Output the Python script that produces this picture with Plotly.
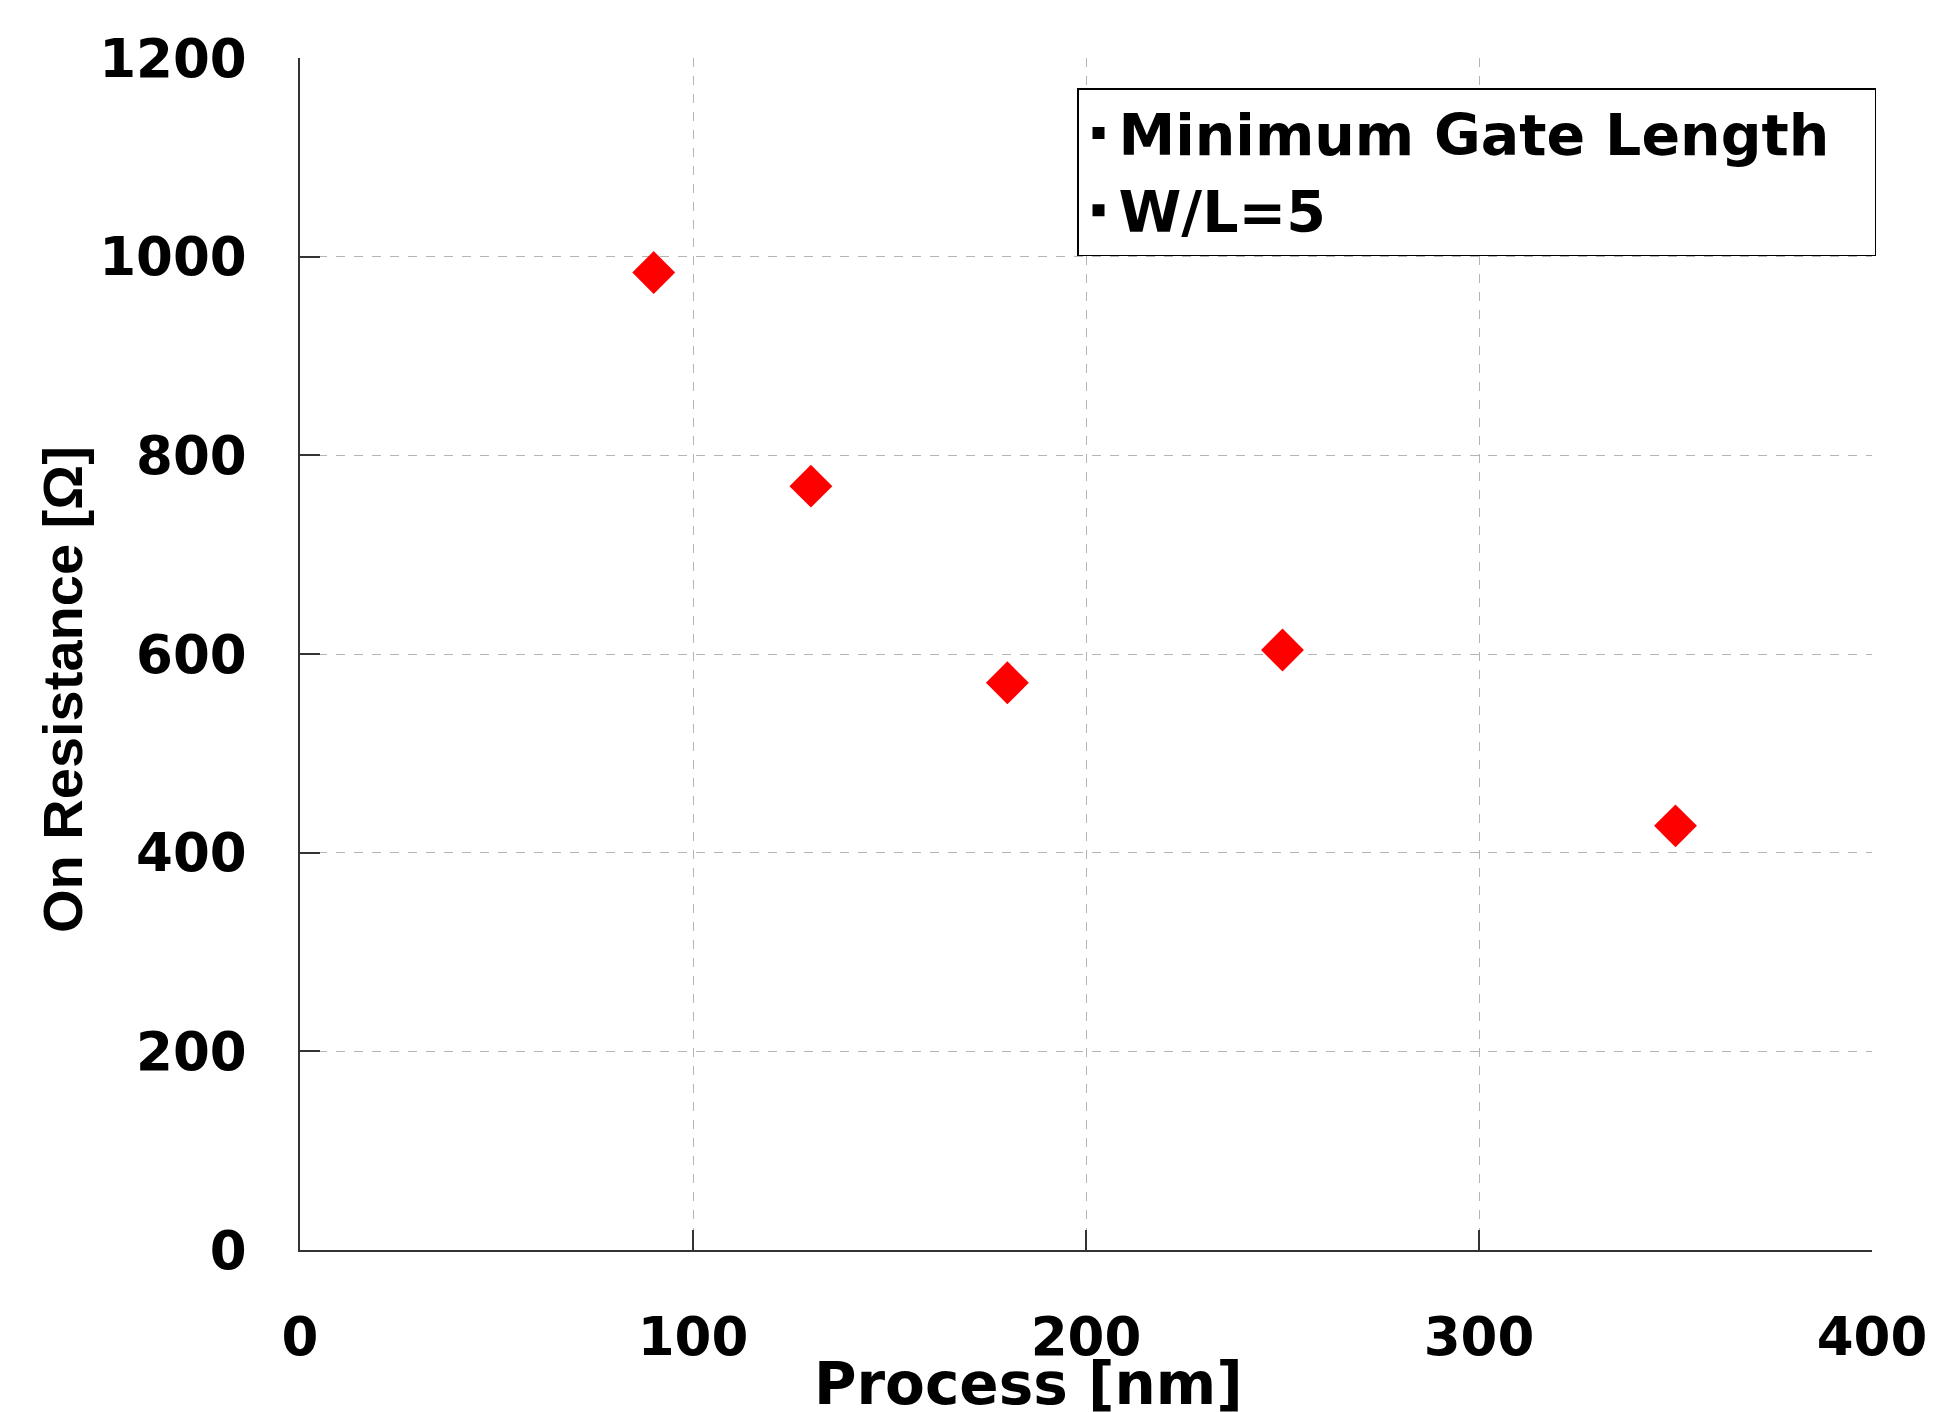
import plotly.graph_objects as go

# Data
process_nm = [90, 130, 180, 250, 350]
on_resistance = [984, 769, 571, 604, 427]
legend_names = ["Minimum Gate Length\u00a0\u00a0", "W/L=5"]
x_ticks = [0, 100, 200, 300, 400]
y_ticks = [0, 200, 400, 600, 800, 1000, 1200]

W, H = 1936, 1412
OFF = 8  # page body margin shifts the figure
# target plot area in screen pixels: x 300..1872, y 58..1250
ML, MT = 300 - OFF, 58 - OFF
MR = (W + OFF) - 1872
MB = (H + OFF) - 1250
PW, PH = 1872 - 300, 1250 - 58

def px_x(x):  # screen x -> paper
    return (x - 300) / PW

def px_y(y):  # screen y -> paper
    return (1250 - y) / PH

bold = dict(family="DejaVu Sans", weight="bold", color="black")

fig = go.Figure()
fig.add_trace(go.Scatter(
    x=process_nm, y=on_resistance, mode="markers",
    marker=dict(symbol="diamond", size=33, color="#ff0000", line=dict(width=0)),
    showlegend=False, cliponaxis=False,
))
for name in legend_names:
    fig.add_trace(go.Scatter(
        x=[None], y=[None], mode="markers", name=name,
        marker=dict(symbol="square", size=12, color="black"),
    ))

axis_common = dict(
    showgrid=True, gridcolor="#b4b4b4", griddash="dash", gridwidth=1,
    showline=True, linecolor="#333333", linewidth=1.5,
    ticks="inside", ticklen=20, tickcolor="#333333", tickwidth=1.5,
    zeroline=False, tickfont=dict(size=53, **bold),
)

fig.update_xaxes(range=[0, 400], tickvals=x_ticks, ticklabelstandoff=40, **axis_common)
fig.update_yaxes(range=[0, 1200], tickvals=y_ticks, ticklabelstandoff=41, **axis_common)

fig.add_annotation(
    text="Process [nm]", xref="paper", yref="paper",
    x=px_x(1028), y=px_y(1384),
    xanchor="center", yanchor="middle", showarrow=False,
    font=dict(size=58, **bold),
)
fig.add_annotation(
    text="On Resistance [Ω]", xref="paper", yref="paper",
    x=px_x(62), y=px_y(690), textangle=-90,
    xanchor="center", yanchor="middle", showarrow=False,
    font=dict(size=56, family="Liberation Sans", weight="bold", color="black"),
)

fig.update_layout(
    width=W, height=H, autosize=False,
    margin=dict(l=ML, r=MR, t=MT, b=MB),
    paper_bgcolor="white", plot_bgcolor="white",
    legend=dict(
        x=px_x(1077), y=px_y(88), xanchor="left", yanchor="top",
        bgcolor="white", bordercolor="black", borderwidth=1.5,
        font=dict(size=57, **bold), itemsizing="trace",
    ),
)

fig.write_html("out.html")
